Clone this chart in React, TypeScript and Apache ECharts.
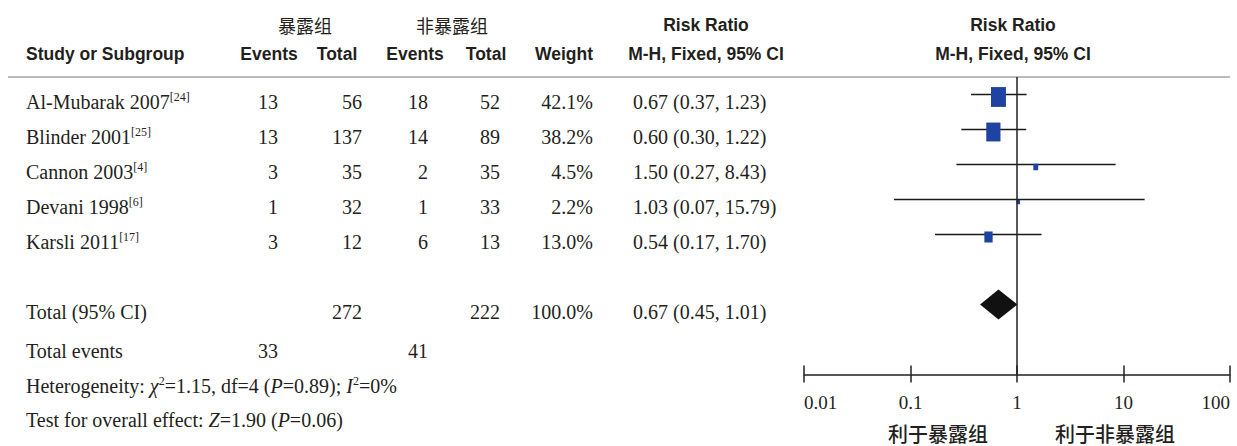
import React, { useEffect, useRef } from "react";
import * as echarts from "echarts";

const studies = ["Al-Mubarak 2007", "Blinder 2001", "Cannon 2003", "Devani 1998", "Karsli 2011"];
const refs = ["[24]", "[25]", "[4]", "[6]", "[17]"];
const expEvents = [13, 13, 3, 1, 3];
const expTotal = [56, 137, 35, 32, 12];
const ctrlEvents = [18, 14, 2, 1, 6];
const ctrlTotal = [52, 89, 35, 33, 13];
const weights = [42.1, 38.2, 4.5, 2.2, 13.0];
const rr = [0.67, 0.6, 1.5, 1.03, 0.54];
const ciLow = [0.37, 0.3, 0.27, 0.07, 0.17];
const ciHigh = [1.23, 1.22, 8.43, 15.79, 1.7];
const totalRR = [0.67, 0.45, 1.01];
const totalN = [272, 222];
const totalEvents = [33, 41];
const xTicks = [0.01, 0.1, 1, 10, 100];

const SERIF = "'Liberation Serif', 'Times New Roman', serif";
const SANS = "'Liberation Sans Narrow', 'Arial Narrow', 'Liberation Sans', Arial, sans-serif";
const CJK = "'Noto Sans CJK SC', sans-serif";
const INK = "#231f20";

function fmt2(v: number) {
  return v.toFixed(2);
}

export default function App() {
  const ref = useRef<HTMLDivElement>(null);
  useEffect(() => {
    document.body.style.margin = "0";
    const chart = echarts.init(ref.current!, null, { renderer: "svg" });

    const rowPx = (i: number) => 77 + 35 * (i + 0.5) + 7;
    const g: any[] = [];
    const txt = (x: number, y: number, text: string, align: string, font: string, extra: any = {}) =>
      g.push({
        type: "text",
        x,
        y,
        style: { text, align, verticalAlign: "middle", font, fill: INK, ...extra },
      });

    const hdr = "bold 17.5px " + SANS;
    const body = "20px " + SERIF;
    // headers
    txt(305, 25, "暴露组", "center", "18px " + CJK);
    txt(452, 25, "非暴露组", "center", "18px " + CJK);
    txt(706, 25, "Risk Ratio", "center", hdr);
    txt(1013, 25, "Risk Ratio", "center", hdr);
    txt(26, 54, "Study or Subgroup", "left", hdr);
    txt(269, 54, "Events", "center", hdr);
    txt(337, 54, "Total", "center", hdr);
    txt(415, 54, "Events", "center", hdr);
    txt(486, 54, "Total", "center", hdr);
    txt(564, 54, "Weight", "center", hdr);
    txt(706, 54, "M-H, Fixed, 95% CI", "center", hdr);
    txt(1013, 54, "M-H, Fixed, 95% CI", "center", hdr);
    g.push({
      type: "line",
      shape: { x1: 8, y1: 77, x2: 1230, y2: 77 },
      style: { stroke: "#777", lineWidth: 1 },
    });

    const rich = {
      n: { font: body, fill: INK, lineHeight: 22 },
      i: { font: "italic 20px " + SERIF, fill: INK, lineHeight: 22 },
      s: { font: "12px " + SERIF, fill: INK, lineHeight: 12, verticalAlign: "top" },
    };

    studies.forEach((s, i) => {
      const y = rowPx(i);
      txt(26, y, `{n|${s}}{s|${refs[i]}}`, "left", body, { rich });
      txt(278, y, String(expEvents[i]), "right", body);
      txt(362, y, String(expTotal[i]), "right", body);
      txt(428, y, String(ctrlEvents[i]), "right", body);
      txt(500, y, String(ctrlTotal[i]), "right", body);
      txt(593, y, weights[i].toFixed(1) + "%", "right", body);
      txt(633, y, `${fmt2(rr[i])} (${fmt2(ciLow[i])}, ${fmt2(ciHigh[i])})`, "left", body);
    });
    const ty = 77 + 35 * 6.5 + 7;
    txt(26, ty, "Total (95% CI)", "left", body);
    txt(362, ty, String(totalN[0]), "right", body);
    txt(500, ty, String(totalN[1]), "right", body);
    txt(593, ty, "100.0%", "right", body);
    txt(633, ty, `${fmt2(totalRR[0])} (${fmt2(totalRR[1])}, ${fmt2(totalRR[2])})`, "left", body);
    txt(26, 351, "Total events", "left", body);
    txt(278, 351, String(totalEvents[0]), "right", body);
    txt(428, 351, String(totalEvents[1]), "right", body);
    txt(
      26,
      386,
      "{n|Heterogeneity: }{i|χ}{s|2}{n|=1.15, df=4 (}{i|P}{n|=0.89); }{i|I}{s|2}{n|=0%}",
      "left",
      body,
      { rich }
    );
    txt(26, 420, "{n|Test for overall effect: }{i|Z}{n|=1.90 (}{i|P}{n|=0.06)}", "left", body, { rich });
    txt(938, 433, "利于暴露组", "center", "500 20px " + CJK, { lineHeight: 22 });
    txt(1115, 433, "利于非暴露组", "center", "500 20px " + CJK, { lineHeight: 22 });

    const studyData = studies.map((_, i) => [ciLow[i], ciHigh[i], rr[i], i + 0.5, weights[i]]);

    const gridBox = { left: 804, width: 426, top: 77, height: 297.5 };
    const baseX = {
      type: "log",
      logBase: 10,
      min: xTicks[0],
      max: xTicks[xTicks.length - 1],
      position: "bottom",
      splitLine: { show: false },
      minorTick: { show: false },
    };

    const option: any = {
      animation: false,
      grid: [gridBox, { ...gridBox }],
      xAxis: [
        {
          ...baseX,
          gridIndex: 0,
          axisLine: { show: true, onZero: false, lineStyle: { color: INK, width: 1.5 } },
          axisTick: { show: true, length: 8, lineStyle: { color: INK, width: 1.5 } },
          axisLabel: {
            margin: 18,
            fontFamily: SERIF,
            fontSize: 19,
            color: INK,
            alignMinLabel: "left",
            alignMaxLabel: "right",
            formatter: (v: number) => {
              let best = xTicks[0];
              xTicks.forEach((t) => {
                if (Math.abs(Math.log10(t) - Math.log10(v)) < Math.abs(Math.log10(best) - Math.log10(v))) best = t;
              });
              return String(best);
            },
          },
        },
        {
          ...baseX,
          gridIndex: 1,
          axisLine: { show: false, onZero: false },
          axisTick: { show: true, inside: true, length: 9, lineStyle: { color: INK, width: 1.5 } },
          axisLabel: { show: false },
        },
      ],
      yAxis: [
        { type: "value", gridIndex: 0, inverse: true, min: 0, max: 8.5, show: false },
        { type: "value", gridIndex: 1, inverse: true, min: 0, max: 8.5, show: false },
      ],
      series: [
        {
          type: "line",
          xAxisIndex: 0,
          yAxisIndex: 0,
          data: [
            [1, 0],
            [1, 8.5],
          ],
          symbol: "none",
          lineStyle: { color: INK, width: 1.5 },
          silent: true,
        },
        {
          type: "custom",
          xAxisIndex: 0,
          yAxisIndex: 0,
          data: studyData,
          encode: { x: [0, 1, 2], y: 3 },
          renderItem: (params: any, api: any) => {
            const lo = api.coord([api.value(0), api.value(3)]);
            const hi = api.coord([api.value(1), api.value(3)]);
            const c = api.coord([api.value(2), api.value(3)]);
            const w = Math.sqrt(api.value(4)) * 2.3;
            const h = w * 1.33;
            return {
              type: "group",
              children: [
                {
                  type: "line",
                  shape: { x1: lo[0], y1: lo[1], x2: hi[0], y2: hi[1] },
                  style: { stroke: "#1a1a1a", lineWidth: 1.5 },
                },
                {
                  type: "rect",
                  shape: { x: c[0] - w / 2, y: c[1] + 2.5 - h / 2, width: w, height: h },
                  style: { fill: "#1f43a0" },
                },
              ],
            };
          },
          silent: true,
        },
        {
          type: "custom",
          xAxisIndex: 0,
          yAxisIndex: 0,
          data: [[totalRR[1], totalRR[2], totalRR[0], 6.5]],
          encode: { x: [0, 1, 2], y: 3 },
          renderItem: (params: any, api: any) => {
            const lo = api.coord([api.value(0), api.value(3)]);
            const hi = api.coord([api.value(1), api.value(3)]);
            const c = api.coord([api.value(2), api.value(3)]);
            return {
              type: "polygon",
              shape: {
                points: [
                  [lo[0], lo[1]],
                  [c[0], c[1] - 15],
                  [hi[0], hi[1]],
                  [c[0], c[1] + 15],
                ],
              },
              style: { fill: "#111" },
            };
          },
          silent: true,
        },
      ],
      graphic: g,
    };
    chart.setOption(option);
    return () => chart.dispose();
  }, []);
  return <div ref={ref} style={{ width: 1237, height: 446 }} />;
}
